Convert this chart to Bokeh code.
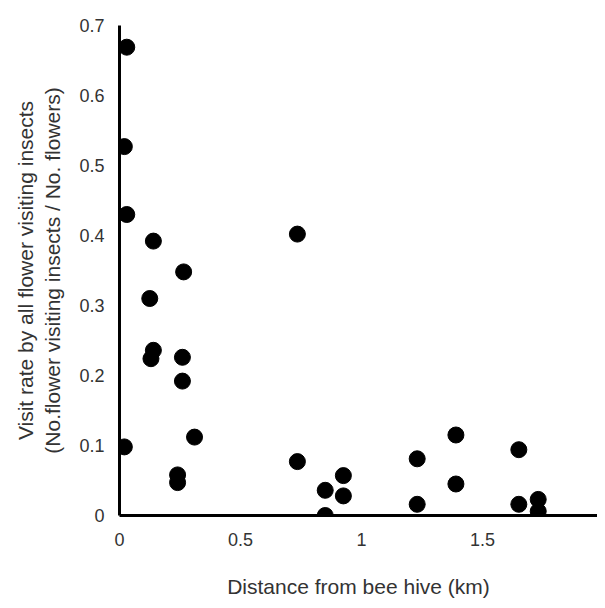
from bokeh.plotting import figure
from bokeh.models import Range1d, FixedTicker
from bokeh.embed import file_html
from bokeh.resources import INLINE

# Data
distance_km = [0.03, 0.02, 0.03, 0.14, 0.125, 0.14, 0.13, 0.265, 0.26, 0.26,
               0.31, 0.02, 0.24, 0.24, 0.735, 0.735, 0.85, 0.85, 0.925, 0.925,
               1.23, 1.23, 1.39, 1.39, 1.65, 1.65, 1.73, 1.73]
visit_rate = [0.669, 0.527, 0.43, 0.392, 0.31, 0.236, 0.224, 0.348, 0.226, 0.192,
              0.112, 0.098, 0.058, 0.047, 0.402, 0.077, 0.036, 0.0, 0.057, 0.028,
              0.081, 0.016, 0.115, 0.045, 0.094, 0.016, 0.023, 0.006]

x_ticks = [0, 0.5, 1, 1.5]
y_ticks = [0, 0.1, 0.2, 0.3, 0.4, 0.5, 0.6, 0.7]

FONT = "Liberation Sans"
TXT = "#333333"

p = figure(width=597, height=600, output_backend="svg", toolbar_location=None,
           x_range=Range1d(0, 1.975), y_range=Range1d(0, 0.7),
           min_border_left=119, min_border_right=0, min_border_top=25,
           min_border_bottom=81)
p.outline_line_color = None
p.grid.visible = False
p.background_fill_color = "white"
p.border_fill_color = "white"

p.scatter(distance_km, visit_rate, size=16, color="black", line_color="black")

for ax in (p.xaxis[0], p.yaxis[0]):
    ax.axis_line_width = 3
    ax.axis_line_color = "black"
    ax.major_tick_line_color = None
    ax.minor_tick_line_color = None
    ax.major_label_text_font = FONT
    ax.major_label_text_font_size = "18px"
    ax.major_label_text_color = TXT
    ax.axis_label_text_font = FONT
    ax.axis_label_text_font_size = "21px"
    ax.axis_label_text_font_style = "normal"
    ax.axis_label_text_color = TXT

p.xaxis.ticker = FixedTicker(ticks=x_ticks)
p.yaxis.ticker = FixedTicker(ticks=y_ticks)
p.xaxis.major_label_standoff = 11
p.yaxis.major_label_standoff = 9
p.xaxis.axis_label = "Distance from bee hive (km)"
p.yaxis.axis_label = "Visit rate by all flower visiting insects\n(No.flower visiting insects / No. flowers)"
p.xaxis.axis_label_standoff = 26
p.yaxis.axis_label_standoff = 12

open("out.html", "w").write(file_html(p, INLINE))
